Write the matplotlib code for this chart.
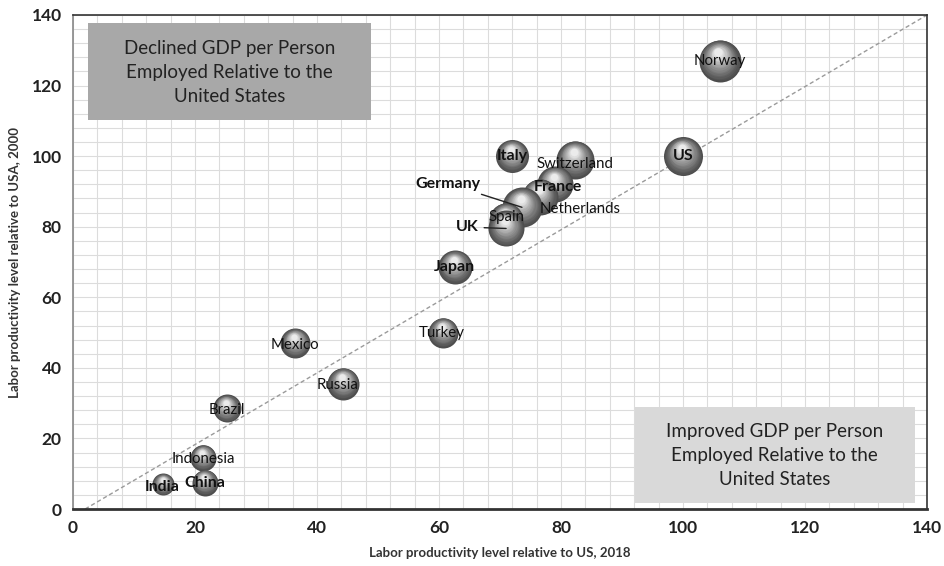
import matplotlib
matplotlib.use("Agg")
import matplotlib.pyplot as plt
import matplotlib.transforms as mtransforms
import numpy as np

plt.rcParams['font.family'] = ['Lato', 'DejaVu Sans']

countries = ["Norway", "US", "Switzerland", "Italy", "France", "Netherlands",
             "Germany", "Spain", "UK", "Japan", "Turkey", "Mexico", "Russia",
             "Brazil", "Indonesia", "China", "India"]
x2018 = [106, 100, 82.3, 72, 79, 76.5, 73.6, 71, 71, 62.6, 60.7, 36.4, 44.3,
         25.2, 21.3, 21.6, 14.8]
y2000 = [127, 100, 99, 100, 92, 88.5, 85.5, 82, 79.5, 68.5, 50, 47, 35.5,
         28.5, 14.5, 7.5, 7]
bubble_r = [21, 19.5, 19, 16.5, 18, 18, 20, 17, 18, 17, 15, 15, 16, 14, 13, 13, 11]
label_bold = [False, True, False, True, True, False, True, False, True, True,
              False, False, False, False, False, True, True]

xticks = [0, 20, 40, 60, 80, 100, 120, 140]
yticks = [0, 20, 40, 60, 80, 100, 120, 140]

fig = plt.figure(figsize=(9.45, 5.66), dpi=100)
ax = fig.add_axes([0.0772, 0.1007, 0.9038, 0.8728])
ax.set_xlim(0, 140)
ax.set_ylim(0, 140)
ax.set_xticks(xticks)
ax.set_yticks(yticks)
ax.set_xticks(np.arange(0, 141, 4), minor=True)
ax.set_yticks(np.arange(0, 141, 4), minor=True)
ax.grid(True, which='both', color='#dcdcdc', lw=0.8, zorder=0)
ax.set_axisbelow(True)
ax.tick_params(which='both', length=0, pad=8)
for lab in ax.get_xticklabels() + ax.get_yticklabels():
    lab.set_fontsize(12.5)
    lab.set_fontweight('bold')
    lab.set_color('#222222')
for sp in ax.spines.values():
    sp.set_color('#333333')
    sp.set_linewidth(1.2)
ax.spines['bottom'].set_linewidth(2.0)
ax.spines['left'].set_color('#888888')

ax.set_xlabel("Labor productivity level relative to US, 2018", fontsize=9.5,
              fontweight='bold', color='#333333', labelpad=8)
ax.set_ylabel("Labor productivity level relative to USA, 2000", fontsize=9.5,
              fontweight='bold', color='#333333', labelpad=8)

# diagonal reference line
ax.plot([2, 140], [0, 140], ls=(0, (3, 2)), color='#9a9a9a', lw=1.0, zorder=2)

# annotation boxes
ax.fill_between([2.5, 48.9], 110.2, 137.7, color='#a8a8a8', lw=0, zorder=1.5)
ax.text(25.7, 123.8, "Declined GDP per Person\nEmployed Relative to the\nUnited States",
        ha='center', va='center', fontsize=13.5, color='#222222', linespacing=1.5, zorder=2)
ax.fill_between([92.1, 138.0], 1.7, 28.9, color='#d9d9d9', lw=0, zorder=1.5)
ax.text(115, 15.3, "Improved GDP per Person\nEmployed Relative to the\nUnited States",
        ha='center', va='center', fontsize=13.5, color='#222222', linespacing=1.5, zorder=2)

# spheres
n = 16
for i, (x, y, r) in enumerate(zip(x2018, y2000, bubble_r)):
    rp = r * 0.72
    for k in range(n):
        t = k / (n - 1)
        rr = rp * (1 - 0.8 * t)
        g = 0.30 + 0.62 * t ** 1.2
        dy = (rp - rr) * 0.5
        dx = -(rp - rr) * 0.08
        tr = mtransforms.offset_copy(ax.transData, fig=fig, x=dx, y=dy, units='points')
        ax.scatter([x], [y], s=(2 * rr) ** 2, color=(g, g, g), lw=0,
                   transform=tr, zorder=3 + i * 0.05 + k * 0.001)

# label offsets in points
offsets = {
    "Norway": (0, 0), "US": (0, 0), "Switzerland": (0, -3), "Italy": (0, 0),
    "France": (2, -2), "Netherlands": (29, -9), "Germany": (-53, 17),
    "Spain": (0, 2), "UK": (-28, 1), "Japan": (0, 0), "Turkey": (-1, 0),
    "Mexico": (0, -1), "Russia": (-4, -1), "Brazil": (0, -1),
    "Indonesia": (0, -1), "China": (0, 0), "India": (-1, -2),
}
for i, c in enumerate(countries):
    ox, oy = offsets[c]
    fw = 'bold' if label_bold[i] else 'normal'
    fs = 11.5 if label_bold[i] else 10.8
    if c in ("Germany", "UK"):
        ax.annotate(c, (x2018[i], y2000[i]), xytext=(ox, oy), textcoords='offset points',
                    ha='center', va='center', fontsize=fs, fontweight=fw, color='#111111',
                    arrowprops=dict(arrowstyle='-', color='#222222', lw=1.0,
                                    shrinkA=2, shrinkB=0),
                    zorder=10)
    else:
        ax.annotate(c, (x2018[i], y2000[i]), xytext=(ox, oy), textcoords='offset points',
                    ha='center', va='center', fontsize=fs, fontweight=fw, color='#111111',
                    zorder=10)

fig.savefig("out.png", dpi=100)
